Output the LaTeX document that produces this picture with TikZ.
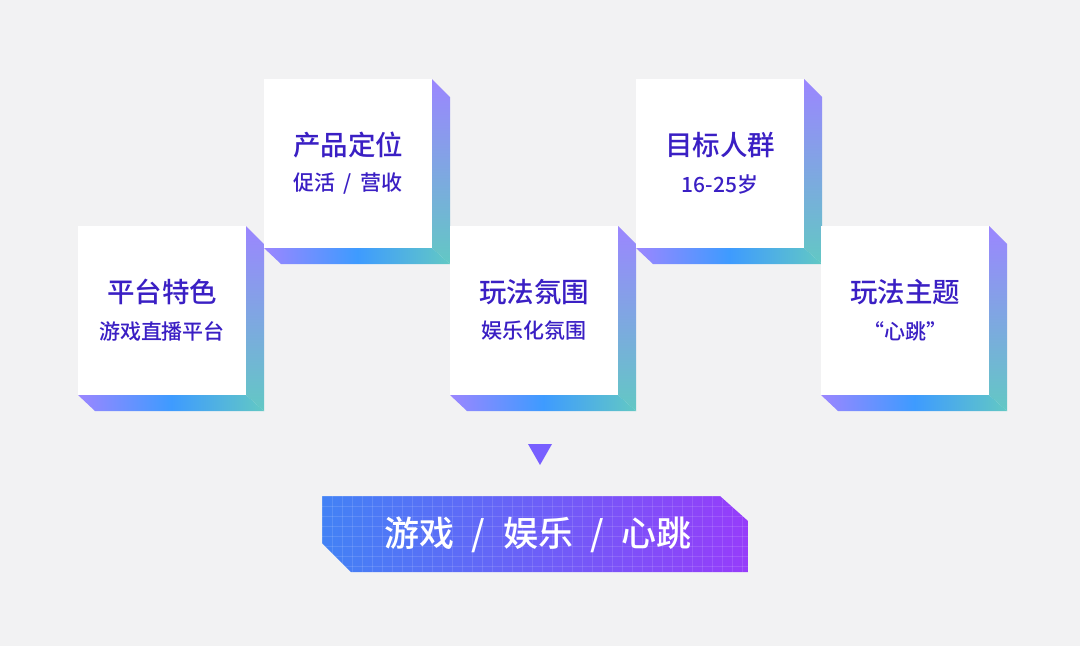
\documentclass[tikz,border=0pt]{standalone}
\usepackage{fontspec}
\setmainfont{Noto Sans CJK SC}
\newfontfamily\medf{Noto Sans CJK SC Medium}
\begin{document}
\begin{tikzpicture}[x=1pt,y=-1pt,
  title/.style={font=\medf\fontsize{27.5}{30}\selectfont,text=txt},
  sub/.style={font=\medf\fontsize{21}{24}\selectfont,text=txt}]
\definecolor{bg}{HTML}{F2F2F3}
\definecolor{txt}{HTML}{3A1FC4}
\definecolor{pur}{HTML}{9B86FF}
\definecolor{blu}{HTML}{3E9BFF}
\definecolor{tea}{HTML}{62C8C4}
\fill[bg] (0,0) rectangle (1080,646);
\useasboundingbox (0,0) rectangle (1080,646);
\newcommand\cardbox[5]{%
  \shade[top color=pur,middle color=blu,bottom color=tea] (#1+168,#2) -- (#1+186,#2+18) -- (#1+186,#2+185) -- (#1+168,#2+169) -- cycle;
  \shade[left color=pur,right color=tea,middle color=blu] (#1,#2+169) -- (#1+168,#2+169) -- (#1+186,#2+185) -- (#1+17,#2+185) -- cycle;
  \fill[white] (#1,#2) rectangle (#1+168,#2+169);
  \node[title] (#3) at (#1+84,#2+66) {#4};
  \node[sub] (#3s) at (#1+84,#2+105) {#5};}
\cardbox{78}{226}{a}{平台特色}{游戏直播平台}
\cardbox{264}{79}{b}{产品定位}{促活\hspace{0.4em}/\hspace{0.4em}营收}
\cardbox{450}{226}{c}{玩法氛围}{娱乐化氛围}
\cardbox{636}{79}{d}{目标人群}{16-25岁}
\cardbox{821}{226}{e}{玩法主题}{“心跳”}
\fill[fill={rgb,255:red,120;green,95;blue,255}] (528,444) -- (552,444) -- (540,465) -- cycle;
\begin{scope}
\clip (322,496) -- (720,496) -- (748,521) -- (748,572) -- (351,572) -- (322,543) -- cycle;
\shade[left color={rgb,255:red,66;green,130;blue,245}, right color={rgb,255:red,150;green,60;blue,250}] (322,496) rectangle (748,572);
\foreach \i in {0,...,43} \draw[white,opacity=0.12,line width=0.6pt] (322+\i*10,496) -- (322+\i*10,572);
\foreach \j in {0,...,7} \draw[white,opacity=0.12,line width=0.6pt] (322,496+\j*10) -- (748,496+\j*10);
\end{scope}
\node[font=\medf\fontsize{35}{38}\selectfont,text=white] (ban) at (538,535) {游戏\hspace{0.5em}/\hspace{0.5em}娱乐\hspace{0.5em}/\hspace{0.5em}心跳};
\end{tikzpicture}
\end{document}
